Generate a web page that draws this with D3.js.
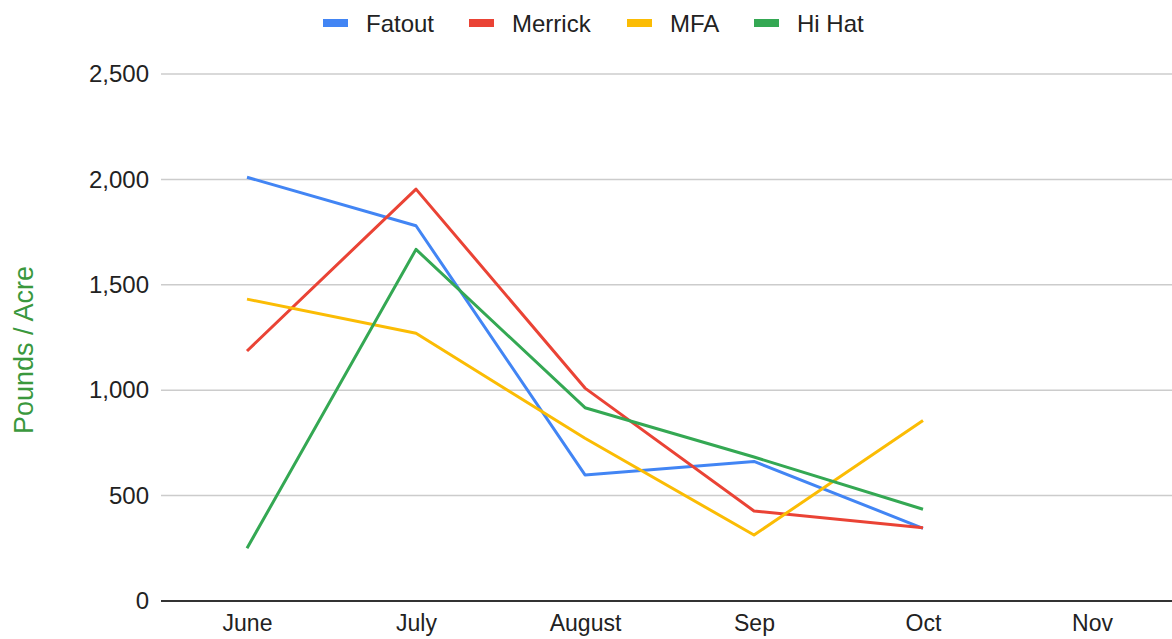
<!DOCTYPE html>
<html><head><meta charset="utf-8">
<script src="https://cdn.jsdelivr.net/npm/d3@7"></script>
<style>body{margin:0;background:#fff}svg{display:block;font-family:"Liberation Sans",Arial,sans-serif}</style>
</head><body><svg id="c" width="1172" height="639"></svg>
<script>
const categories = ["June","July","August","Sep","Oct","Nov"];
const seriesNames = ["Fatout","Merrick","MFA","Hi Hat"];
const fatout  = [2010, 1780, 598, 662, 345, null];
const merrick = [1186, 1954, 1010, 427, 347, null];
const mfa     = [1432, 1270, 772, 313, 856, null];
const hiHat   = [250, 1668, 917, 683, 435, null];
const yTicks = [0, 500, 1000, 1500, 2000, 2500];
const colors = ["#4285F4","#EA4335","#FBBC04","#34A853"];
const allSeries = [fatout, merrick, mfa, hiHat];

const svg = d3.select("#c");
const x = d3.scalePoint().domain(categories).range([247, 1092]);
const y = d3.scaleLinear().domain([0, 2500]).range([601, 74]);
const FF = "Liberation Sans, Arial, sans-serif";

// gridlines
svg.append("g").selectAll("line").data(yTicks.filter(d=>d>0)).join("line")
  .attr("x1",161).attr("x2",1172).attr("y1",d=>y(d)).attr("y2",d=>y(d))
  .attr("stroke","#cccccc").attr("stroke-width",1.5);

// y axis labels
const yAxis = d3.axisLeft(y).tickValues(yTicks).tickFormat(d3.format(",")).tickSize(0).tickPadding(0);
const gy = svg.append("g").attr("transform","translate(149,0)").call(yAxis);
gy.select(".domain").remove();
gy.selectAll("text").attr("font-size",24).attr("fill","#222").attr("font-family",FF);

// x axis labels
const xAxis = d3.axisBottom(x).tickSize(0).tickPadding(0);
const gx = svg.append("g").attr("transform","translate(0,615)").call(xAxis);
gx.select(".domain").remove();
gx.selectAll("text").attr("font-size",23).attr("fill","#222").attr("font-family",FF);

// baseline
svg.append("line").attr("x1",161).attr("x2",1172).attr("y1",y(0)).attr("y2",y(0))
  .attr("stroke","#333").attr("stroke-width",2);

// lines
const line = d3.line().defined(d=>d.v!=null).x(d=>x(d.c)).y(d=>y(d.v));
allSeries.forEach((s,i)=>{
  svg.append("path").datum(s.map((v,j)=>({c:categories[j],v})))
    .attr("d",line).attr("fill","none").attr("stroke",colors[i])
    .attr("stroke-width",3).attr("stroke-linejoin","round");
});

// y title
svg.append("text").attr("transform","translate(33,350) rotate(-90)")
  .attr("text-anchor","middle").attr("font-size",27).attr("fill","#3a983d")
  .attr("font-family",FF).text("Pounds / Acre");

// legend
const legX = [323, 469, 627, 754];
const lg = svg.append("g");
seriesNames.forEach((n,i)=>{
  lg.append("rect").attr("x",legX[i]).attr("y",19).attr("width",25).attr("height",8)
    .attr("fill",colors[i]);
  lg.append("text").attr("x",legX[i]+43).attr("y",32).attr("font-size",24)
    .attr("fill","#222").attr("font-family",FF).text(n);
});
</script></body></html>
